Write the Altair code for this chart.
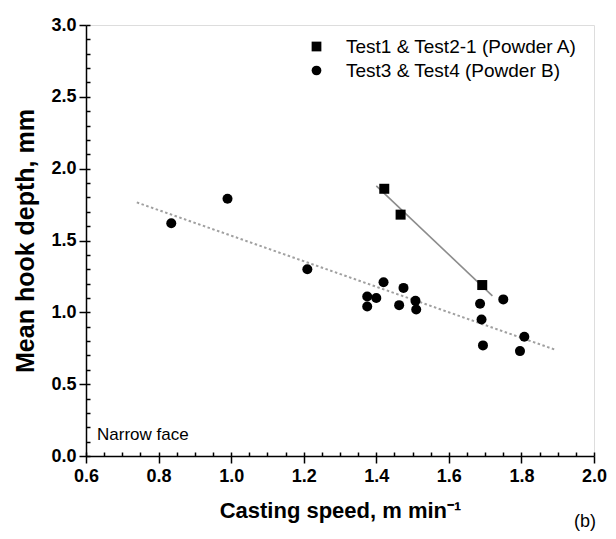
import altair as alt
import pandas as pd

# ---- data ----
series_names = ["Test1 & Test2-1 (Powder A)", "Test3 & Test4 (Powder B)"]

speed_a = [1.422, 1.467, 1.692]
depth_a = [1.86, 1.68, 1.19]

speed_b = [0.835, 0.99, 1.21, 1.375, 1.375, 1.40, 1.42, 1.463, 1.475, 1.508,
           1.51, 1.686, 1.69, 1.694, 1.75, 1.796, 1.808]
depth_b = [1.62, 1.79, 1.30, 1.11, 1.04, 1.10, 1.21, 1.05, 1.17, 1.08,
           1.02, 1.06, 0.95, 0.77, 1.09, 0.73, 0.83]

fit_a_x = [1.40, 1.72]
fit_a_y = [1.88, 1.115]
fit_b_x = [0.74, 1.895]
fit_b_y = [1.765, 0.738]

x_ticks = [0.6, 0.8, 1.0, 1.2, 1.4, 1.6, 1.8, 2.0]
y_ticks = [0.0, 0.5, 1.0, 1.5, 2.0, 2.5, 3.0]
x_minor = [round(0.6 + 0.05 * i, 2) for i in range(29)]
y_minor = [round(0.1 * i, 1) for i in range(31)]

annotations = ["Narrow face", "(b)"]

FONT = "Liberation Sans"

points = pd.DataFrame({
    "speed": speed_a + speed_b,
    "depth": depth_a + depth_b,
    "series": [series_names[0]] * len(speed_a) + [series_names[1]] * len(speed_b),
})
fit_a = pd.DataFrame({"speed": fit_a_x, "depth": fit_a_y})
fit_b = pd.DataFrame({"speed": fit_b_x, "depth": fit_b_y})

xscale = alt.Scale(domain=[0.6, 2.0], nice=False, zero=False)
yscale = alt.Scale(domain=[0.0, 3.0], nice=False, zero=False)

x_main = alt.X("speed:Q", scale=xscale, axis=alt.Axis(
    values=x_ticks, format=".1f", orient="bottom",
    title="Casting speed, m min⁻¹", titleFont=FONT, titleFontSize=22,
    titleFontWeight="bold", titlePadding=15, titleColor="black",
    labelFont=FONT, labelFontSize=18, labelFontWeight="bold", labelColor="black",
    labelPadding=4, tickSize=7, tickWidth=1.5, tickColor="black",
    domainColor="black", domainWidth=1.5, grid=False, labelFlush=False))
y_main = alt.Y("depth:Q", scale=yscale, axis=alt.Axis(
    values=y_ticks, format=".1f", orient="left",
    title="Mean hook depth, mm", titleFont=FONT, titleFontSize=25,
    titleFontWeight="bold", titlePadding=12, titleColor="black",
    labelFont=FONT, labelFontSize=18, labelFontWeight="bold", labelColor="black",
    labelPadding=3, tickSize=7, tickWidth=1.5, tickColor="black",
    domainColor="black", domainWidth=1.5, grid=False, labelFlush=False))

line_a = alt.Chart(fit_a).mark_line(color="#8c8c8c", strokeWidth=1.6).encode(
    x=x_main, y=y_main)
line_b = alt.Chart(fit_b).mark_line(color="#a0a0a0", strokeWidth=2,
                                    strokeDash=[2.5, 2.5]).encode(
    x=alt.X("speed:Q", scale=xscale, axis=None),
    y=alt.Y("depth:Q", scale=yscale, axis=None))

pts = alt.Chart(points).mark_point(filled=True, opacity=1, size=100).encode(
    x=alt.X("speed:Q", scale=xscale, axis=None),
    y=alt.Y("depth:Q", scale=yscale, axis=None),
    shape=alt.Shape("series:N", scale=alt.Scale(domain=series_names,
                                                range=["square", "circle"]),
                    legend=alt.Legend(title=None, orient="none", legendX=221,
                                      legendY=12, padding=0, labelFont=FONT,
                                      labelFontSize=19, labelColor="black",
                                      labelOffset=20, rowPadding=4,
                                      labelLimit=0,
                                      symbolSize=95, symbolFillColor="black",
                                      symbolStrokeColor="black",
                                      symbolStrokeWidth=0)),
    color=alt.value("black"))

# minor ticks: inward, drawn with offset axes
minor_x = alt.Chart(fit_a).mark_point(opacity=0).encode(
    x=alt.X("speed:Q", scale=xscale, axis=alt.Axis(
        values=x_minor, orient="bottom", labels=False, title=None, domain=False,
        grid=False, tickSize=4, offset=-4, tickWidth=1.5, tickColor="black")),
    y=alt.Y("depth:Q", scale=yscale, axis=alt.Axis(
        values=y_minor, orient="left", labels=False, title=None, domain=False,
        grid=False, tickSize=4, offset=-4, tickWidth=1.5, tickColor="black")))

ann_df = pd.DataFrame({"label": annotations})
narrow = alt.Chart(ann_df).transform_filter(alt.datum.label == annotations[0]).mark_text(
    align="left", baseline="middle", font=FONT, fontSize=17, color="black").encode(
    text="label:N", x=alt.value(11), y=alt.value(410))
panel = alt.Chart(ann_df).transform_filter(alt.datum.label == annotations[1]).mark_text(
    align="left", baseline="middle", font=FONT, fontSize=18, color="black").encode(
    text="label:N", x=alt.value(488), y=alt.value(497))

chart = alt.layer(minor_x, line_a, line_b, pts, narrow, panel).resolve_axis(
    x="independent", y="independent").properties(
    width=508, height=431,
    autosize=alt.AutoSizeParams(type="none"),
    padding={"left": 78, "top": 17, "right": 14, "bottom": 75},
).configure_view(stroke="black", strokeWidth=1.5).configure(background="white")

chart.save("out.html", embed_options={"renderer": "svg", "actions": False})
